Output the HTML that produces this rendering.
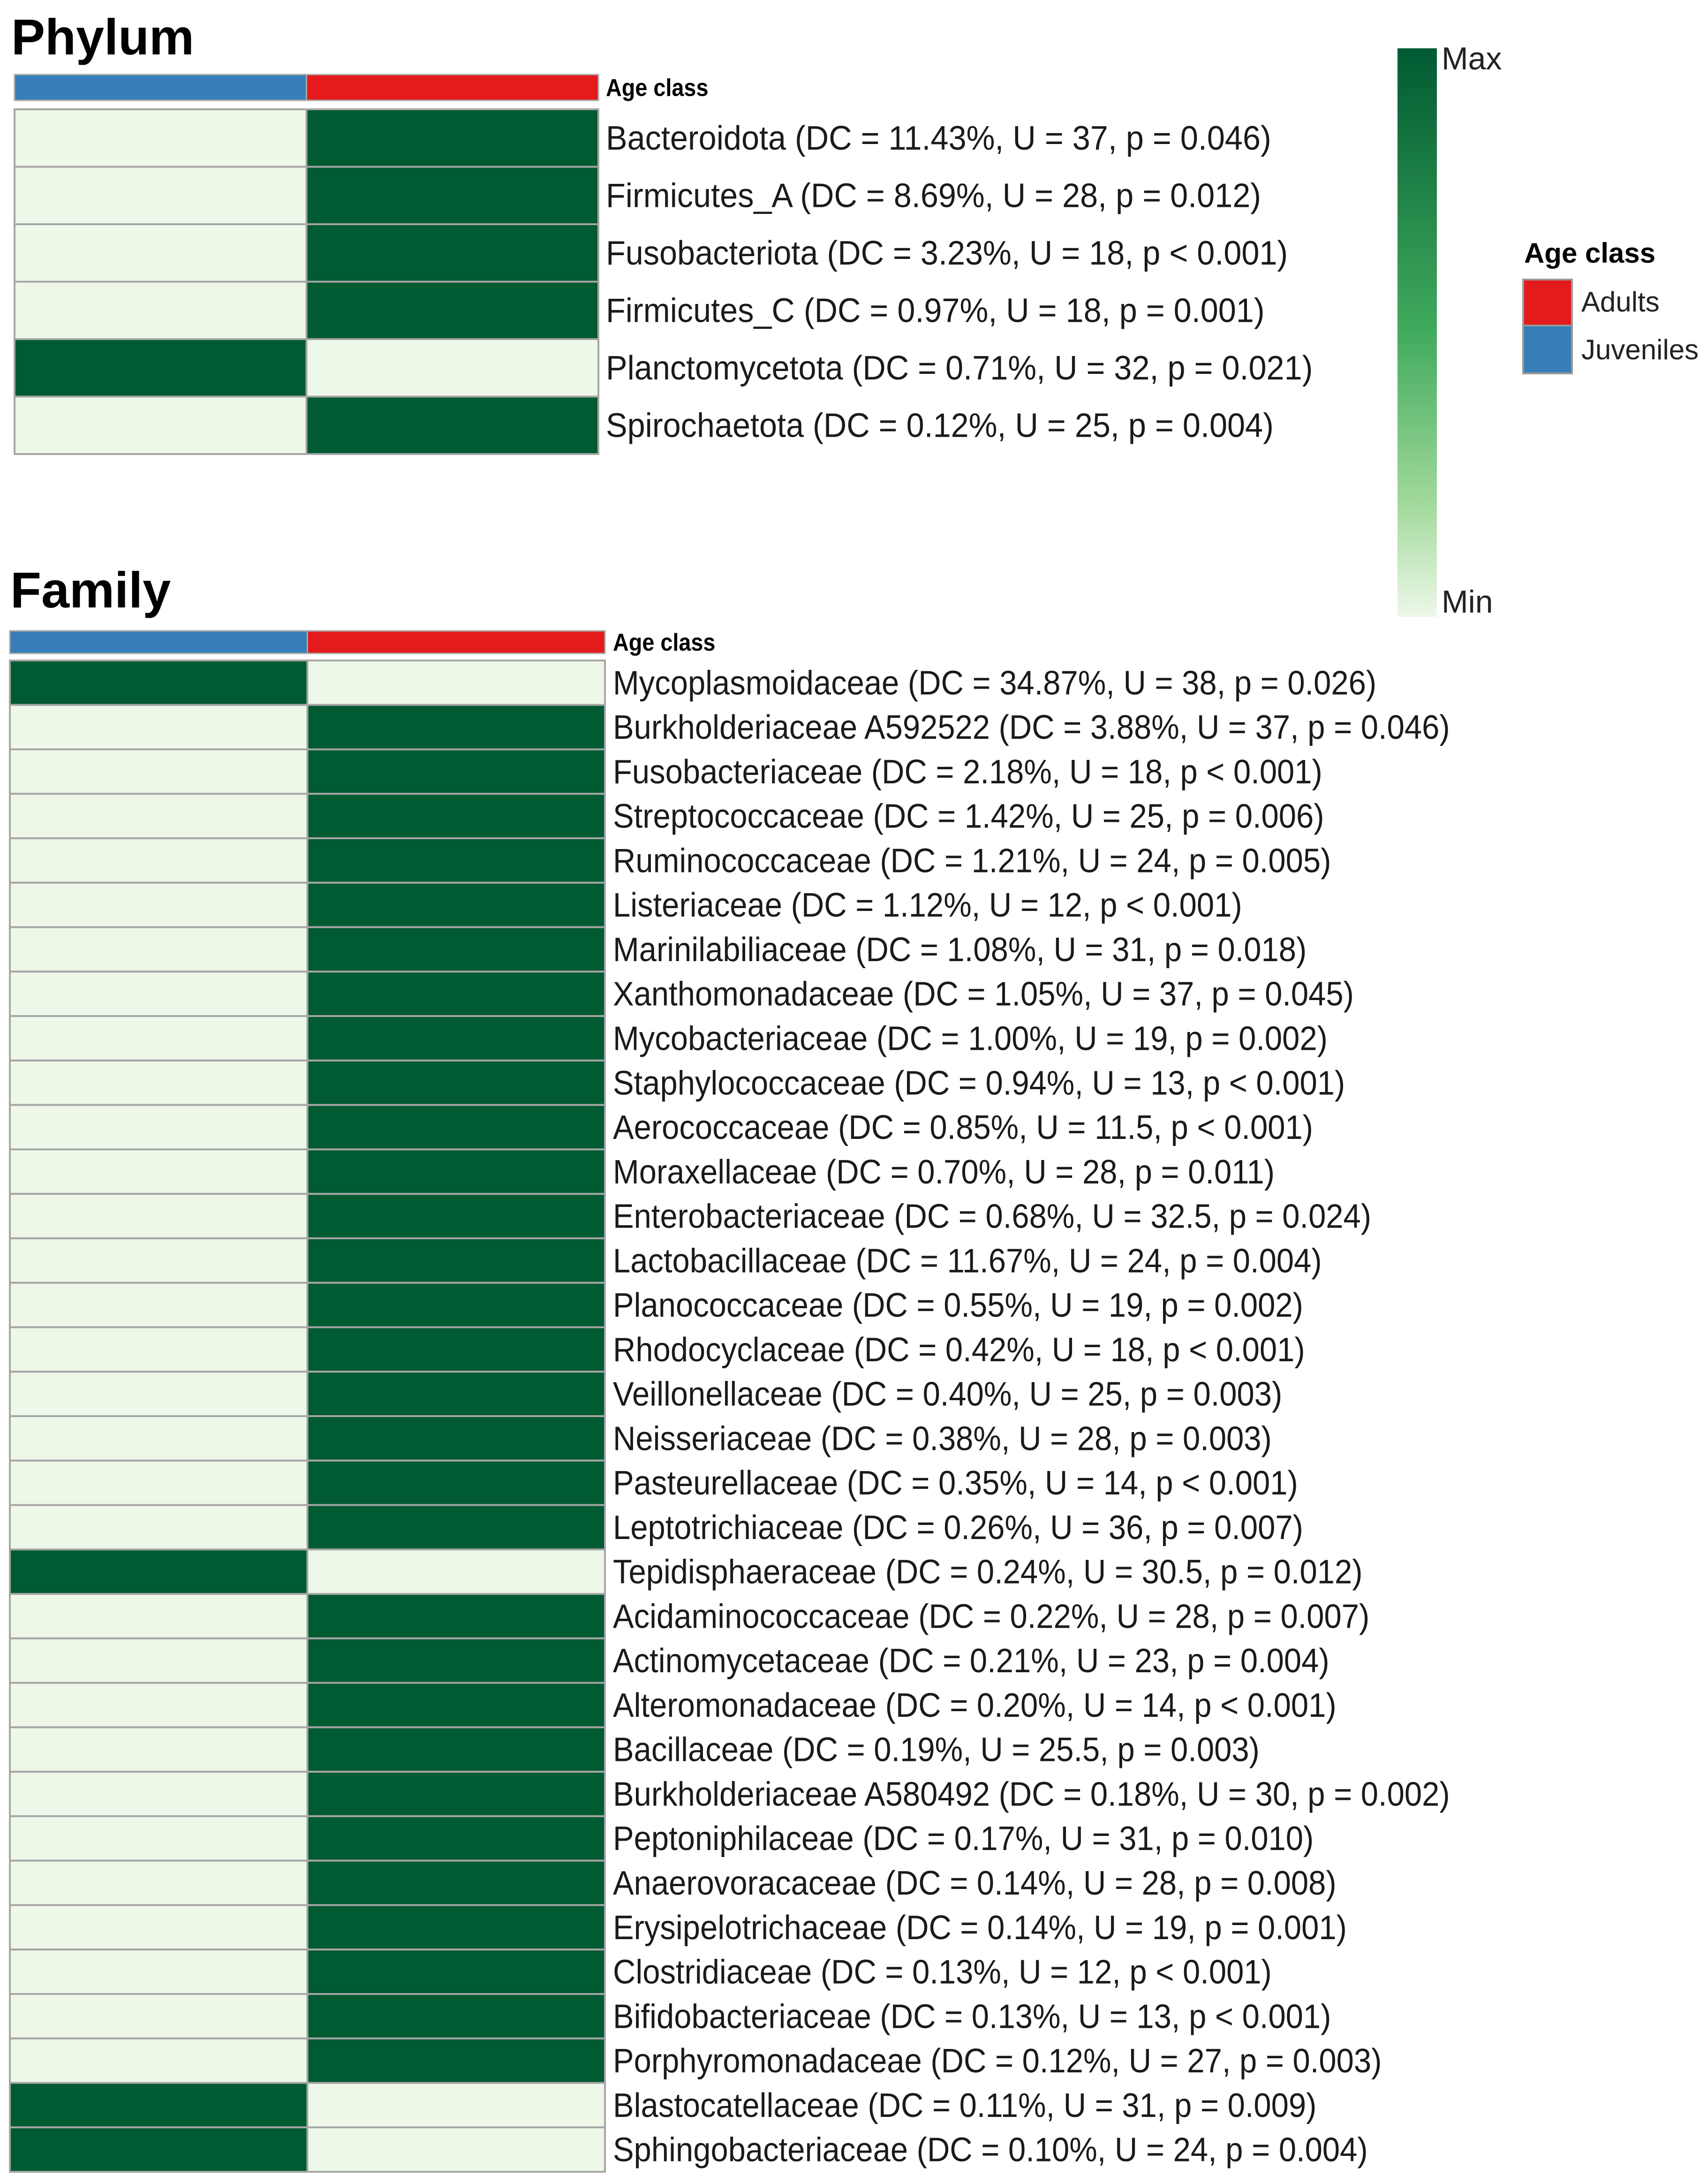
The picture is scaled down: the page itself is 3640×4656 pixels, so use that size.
<!DOCTYPE html>
<html><head><meta charset="utf-8"><style>
html,body{margin:0;padding:0;background:#fff;}
svg{display:block;font-family:"Liberation Sans",Arial,sans-serif;}
</style></head><body>
<svg id="chart" width="3640" height="4656" viewBox="0 0 3640 4656" xmlns="http://www.w3.org/2000/svg">
<defs><linearGradient id="gr" x1="0" y1="0" x2="0" y2="1"><stop offset="0" stop-color="#005a32"/><stop offset="0.5" stop-color="#41ab5d"/><stop offset="0.8" stop-color="#a1d99b"/><stop offset="1" stop-color="#edf8e9"/></linearGradient></defs>
<text x="24" y="116" font-size="108" font-weight="bold">Phylum</text>
<text x="22" y="1295" font-size="108" font-weight="bold">Family</text>
<g>
<rect x="2980" y="103" width="84" height="1212" fill="url(#gr)"/>
<text x="3074" y="148" font-size="68" fill="#222">Max</text>
<text x="3074" y="1306" font-size="68" fill="#222">Min</text>
</g>
<g>
<text x="3250" y="560" font-size="60" font-weight="bold">Age class</text>
<rect x="3248" y="596" width="104" height="98" fill="#e41a1c" stroke="#999" stroke-width="4"/>
<rect x="3248" y="694" width="104" height="102" fill="#377eb8" stroke="#999" stroke-width="4"/>
<text x="3372" y="664" font-size="60" fill="#222">Adults</text>
<text x="3372" y="766" font-size="60" fill="#222">Juveniles</text>
</g>
<g id="panels"></g>
</svg>
<script>
const phylumLabels=["Bacteroidota (DC = 11.43%, U = 37, p = 0.046)","Firmicutes_A (DC = 8.69%, U = 28, p = 0.012)","Fusobacteriota (DC = 3.23%, U = 18, p < 0.001)","Firmicutes_C (DC = 0.97%, U = 18, p = 0.001)","Planctomycetota (DC = 0.71%, U = 32, p = 0.021)","Spirochaetota (DC = 0.12%, U = 25, p = 0.004)"];
const phylumJuveniles=[0,0,0,0,1,0];
const phylumAdults=[1,1,1,1,0,1];
const familyLabels=["Mycoplasmoidaceae (DC = 34.87%, U = 38, p = 0.026)","Burkholderiaceae A592522 (DC = 3.88%, U = 37, p = 0.046)","Fusobacteriaceae (DC = 2.18%, U = 18, p < 0.001)","Streptococcaceae (DC = 1.42%, U = 25, p = 0.006)","Ruminococcaceae (DC = 1.21%, U = 24, p = 0.005)","Listeriaceae (DC = 1.12%, U = 12, p < 0.001)","Marinilabiliaceae (DC = 1.08%, U = 31, p = 0.018)","Xanthomonadaceae (DC = 1.05%, U = 37, p = 0.045)","Mycobacteriaceae (DC = 1.00%, U = 19, p = 0.002)","Staphylococcaceae (DC = 0.94%, U = 13, p < 0.001)","Aerococcaceae (DC = 0.85%, U = 11.5, p < 0.001)","Moraxellaceae (DC = 0.70%, U = 28, p = 0.011)","Enterobacteriaceae (DC = 0.68%, U = 32.5, p = 0.024)","Lactobacillaceae (DC = 11.67%, U = 24, p = 0.004)","Planococcaceae (DC = 0.55%, U = 19, p = 0.002)","Rhodocyclaceae (DC = 0.42%, U = 18, p < 0.001)","Veillonellaceae (DC = 0.40%, U = 25, p = 0.003)","Neisseriaceae (DC = 0.38%, U = 28, p = 0.003)","Pasteurellaceae (DC = 0.35%, U = 14, p < 0.001)","Leptotrichiaceae (DC = 0.26%, U = 36, p = 0.007)","Tepidisphaeraceae (DC = 0.24%, U = 30.5, p = 0.012)","Acidaminococcaceae (DC = 0.22%, U = 28, p = 0.007)","Actinomycetaceae (DC = 0.21%, U = 23, p = 0.004)","Alteromonadaceae (DC = 0.20%, U = 14, p < 0.001)","Bacillaceae (DC = 0.19%, U = 25.5, p = 0.003)","Burkholderiaceae A580492 (DC = 0.18%, U = 30, p = 0.002)","Peptoniphilaceae (DC = 0.17%, U = 31, p = 0.010)","Anaerovoracaceae (DC = 0.14%, U = 28, p = 0.008)","Erysipelotrichaceae (DC = 0.14%, U = 19, p = 0.001)","Clostridiaceae (DC = 0.13%, U = 12, p < 0.001)","Bifidobacteriaceae (DC = 0.13%, U = 13, p < 0.001)","Porphyromonadaceae (DC = 0.12%, U = 27, p = 0.003)","Blastocatellaceae (DC = 0.11%, U = 31, p = 0.009)","Sphingobacteriaceae (DC = 0.10%, U = 24, p = 0.004)"];
const familyJuveniles=[1,0,0,0,0,0,0,0,0,0,0,0,0,0,0,0,0,0,0,0,1,0,0,0,0,0,0,0,0,0,0,0,1,1];
const familyAdults=[0,1,1,1,1,1,1,1,1,1,1,1,1,1,1,1,1,1,1,1,0,1,1,1,1,1,1,1,1,1,1,1,0,0];

const NS="http://www.w3.org/2000/svg";
const root=document.getElementById('panels');
function mk(tag,attrs,parent){const e=document.createElementNS(NS,tag);for(const k in attrs)e.setAttribute(k,attrs[k]);parent.appendChild(e);return e;}
function color(v){return v>=0.5?'#005a32':'#edf8e9';}

function panel(prefix,labels,juv,adu,cfg){
  const g=mk('g',{},root);
  
  
  const mid=cfg.x0+(cfg.x1-cfg.x0)/2;
  const b1=mk('rect',{x:cfg.x0,y:cfg.barY,width:mid-cfg.x0,height:cfg.barH,fill:'#377eb8',stroke:'#aaa','stroke-width':3},g);
  
  
  const b2=mk('rect',{x:mid,y:cfg.barY,width:cfg.x1-mid,height:cfg.barH,fill:'#e41a1c',stroke:'#aaa','stroke-width':3},g);
  
  
  const at=mk('text',{x:cfg.tx,y:cfg.barY+cfg.barH/2+18,'font-size':52,'font-weight':'bold',transform:'translate('+cfg.tx+',0) scale(0.9,1) translate('+(-cfg.tx)+',0)'},g);
  at.textContent='Age class';
  
  
  const n=labels.length;
  const rh=(cfg.y1-cfg.y0)/n;
  const yOf=i=>cfg.y0+i*rh;
  for(let i=0;i<n;i++){
    const c1=mk('rect',{x:cfg.x0,y:yOf(i),width:mid-cfg.x0,height:rh,fill:color(juv[i]),stroke:'#a6a6a6','stroke-width':4},g);
    
    
    const c2=mk('rect',{x:mid,y:yOf(i),width:cfg.x1-mid,height:rh,fill:color(adu[i]),stroke:'#a6a6a6','stroke-width':4},g);
    
    
    const t=mk('text',{x:cfg.tx,y:yOf(i)+rh/2+25,'font-size':cfg.fs,fill:'#1a1a1a',transform:'translate('+cfg.tx+',0) scale('+cfg.sx+',1) translate('+(-cfg.tx)+',0)'},g);
    t.textContent=labels[i];
    
    
  }
}
panel('phylum',phylumLabels,phylumJuveniles,phylumAdults,{x0:31,x1:1276,barY:159,barH:55,y0:233,y1:968,tx:1292,fs:72,sx:0.95});
panel('family',familyLabels,familyJuveniles,familyAdults,{x0:21,x1:1290,barY:1345,barH:48,y0:1408,y1:4630,tx:1307,fs:72,sx:0.93});
</script>
</body></html>
